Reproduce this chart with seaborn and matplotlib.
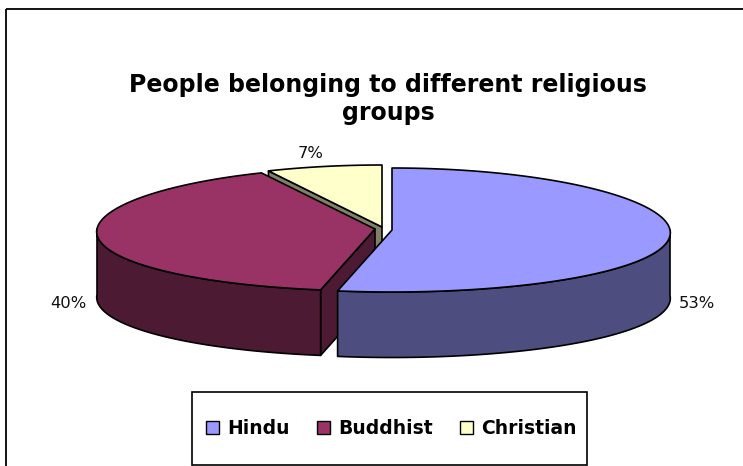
import numpy as np
import matplotlib
matplotlib.use("Agg")
import matplotlib.pyplot as plt
from matplotlib.patches import Polygon, Rectangle, Patch
import seaborn as sns

categories = ["Hindu", "Buddhist", "Christian"]
shares = [53, 40, 7]
top_colors = ["#9999FF", "#993366", "#FFFFCC"]
side_colors = ["#4D4D80", "#4D1A33", "#808066"]
pie_centres = [(392, 230), (375, 229), (382, 227)]
label_spots = [(697, 303), (68, 303), (311, 153)]

RX, RY, DEPTH = 278, 62, 65.5
PERSPECTIVE = 0.045
EDGE = dict(edgecolor="black", linewidth=1.2, joinstyle="round")

sns.set_theme(style="white", rc={"font.family": ["DejaVu Sans"], "text.color": "black"})
fig = plt.figure(figsize=(7.43, 4.66), dpi=100, facecolor="white")
ax = fig.add_axes([0, 0, 1, 1])
ax.set_xlim(0, 743)
ax.set_ylim(466, 0)
ax.axis("off")

# Chart frame runs past the right and bottom edges of the canvas
ax.add_patch(Rectangle((6, 9), 800, 500, fill=False, edgecolor="black", linewidth=1.3))


def rim(centre, a, b, drop=0.0):
    """Points on the elliptical rim between two clockwise angles from 12 o'clock."""
    t = np.radians(np.linspace(a, b, max(int(abs(b - a)) * 2, 2)))
    # Nearer parts of the disc spread slightly wider than the far parts
    spread = 1 - PERSPECTIVE * np.cos(t)
    return np.column_stack([centre[0] + RX * np.sin(t) * spread, centre[1] - RY * np.cos(t) + drop])


stops = np.concatenate([[0], np.cumsum(shares)]) * 3.6
spans = list(zip(stops[:-1], stops[1:]))


def draw_slice(i, z, cut_face=False):
    c, (a, b) = pie_centres[i], spans[i]
    apex = np.array(c, dtype=float)
    if cut_face:
        p = rim(c, a, a)[0]
        quad = [apex, p, p + [0, DEPTH], apex + [0, DEPTH]]
        ax.add_patch(Polygon(quad, facecolor=side_colors[i], zorder=z, **EDGE))
    lo, hi = max(a, 90), min(b, 270)
    if lo < hi:
        outer = rim(c, lo, hi)
        lower = rim(c, hi, lo, DEPTH)
        ax.add_patch(Polygon(np.vstack([outer, lower]), facecolor=side_colors[i], zorder=z + 0.1, **EDGE))
    ax.add_patch(Polygon(np.vstack([[apex], rim(c, a, b)]), facecolor=top_colors[i], zorder=z + 0.2, **EDGE))


# Back slice first, so nearer slices overlap it
draw_slice(2, 2, cut_face=True)
draw_slice(1, 3, cut_face=True)
draw_slice(0, 4)

for share, (x, y) in zip(shares, label_spots):
    ax.text(x, y, f"{share}%", ha="center", va="center", fontsize=11.8, color="#111111")

ax.text(388, 99, "People belonging to different religious\ngroups", ha="center", va="center",
        fontsize=17, fontweight="bold", color="black", linespacing=1.17)

# Legend box is drawn on its own so the entries keep their spacing inside it
ax.add_patch(Rectangle((192, 392), 395, 73, facecolor="white", edgecolor="black", linewidth=1.2, zorder=5))
handles = [Patch(facecolor=col, edgecolor="black", linewidth=1) for col in top_colors]
legend = ax.legend(handles, categories, loc="center", bbox_to_anchor=(391.5, 428.5),
                   bbox_transform=ax.transData, ncol=3, frameon=False, labelcolor="black",
                   prop={"weight": "bold", "size": 13.5}, handlelength=0.68,
                   handleheight=0.68, handletextpad=0.48, columnspacing=1.42, borderaxespad=0)
legend.set_zorder(6)

fig.savefig("out.png", dpi=100)
